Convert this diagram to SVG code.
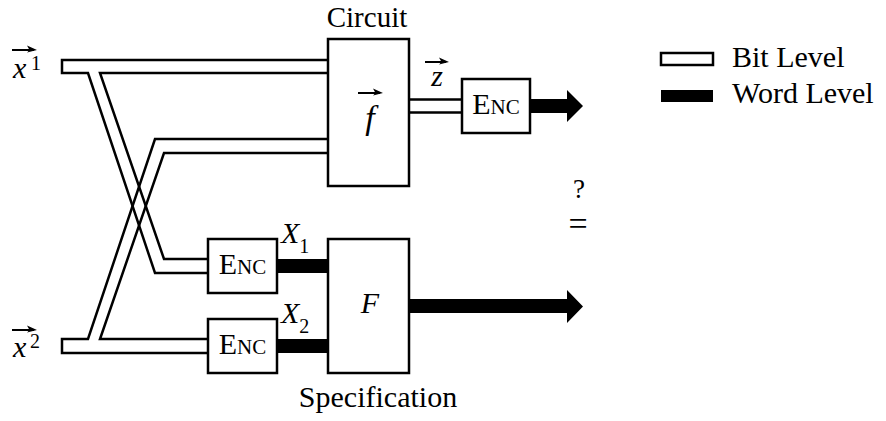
<svg xmlns="http://www.w3.org/2000/svg" width="886" height="421" viewBox="0 0 886 421">
<style>
text{font-family:"Liberation Serif","Times New Roman",Times,Tinos,"Nimbus Roman","Nimbus Roman No9 L",FreeSerif,"DejaVu Serif","Noto Serif",serif;fill:#000}
.t{font-size:30px}
.it{font-style:italic}
.box{fill:#fff;stroke:#000;stroke-width:2.5}
.bus{fill:none;stroke:#000;stroke-width:2.5;stroke-linejoin:miter}
.vec{fill:none;stroke:#000;stroke-width:2}
.vh{fill:#000;stroke:none}
</style>
<rect width="886" height="421" fill="#fff"/>
<g id="connectors">
  <path class="bus" d="M328,60 H62 V73 H88 L155,273 H208"/>
  <path class="bus" d="M208,259 H164 L100,73 H328"/>
  <path class="bus" d="M208,353 H62 V339 H88 L155,139 H328"/>
  <path class="bus" d="M328,153 H164 L100,339 H208"/>
  <path class="bus" d="M409,99.5 H462 M409,112.5 H462"/>
  <rect x="277" y="259" width="51" height="14" fill="#000"/>
  <rect x="277" y="339" width="51" height="14" fill="#000"/>
  <path d="M530,99 H567 V90 L583,106 L567,122 V113 H530 Z" fill="#000"/>
  <path d="M409,299 H567 V290 L583,306.5 L567,323 V313 H409 Z" fill="#000"/>
</g>
<g id="circuit">
  <rect class="box" x="328" y="39" width="81" height="147"/>
  <text x="367" y="27" font-size="29" text-anchor="middle">Circuit</text>
  <path class="vec" d="M358,93 H380"/>
  <path class="vh" d="M373,88.5 L383,93 L373,95.5 L375.5,93 Z"/>
  <text class="it" x="370" y="129" font-size="34" text-anchor="middle">f</text>
</g>
<g id="enc-top">
  <rect class="box" x="462" y="79" width="68" height="54"/>
  <text class="t" x="496" y="114" text-anchor="middle">E<tspan font-size="21">NC</tspan></text>
</g>
<g id="z-label">
  <path class="vec" d="M425,62 H446"/>
  <path class="vh" d="M439,57.5 L449,62 L439,64.5 L441.5,62 Z"/>
  <text class="t it" x="437" y="86" text-anchor="middle">z</text>
</g>
<g id="x1-label">
  <path class="vec" d="M12,50 H34"/>
  <path class="vh" d="M27,45.5 L37,50 L27,52.5 L29.5,50 Z"/>
  <text class="t it" x="13" y="78">x</text>
  <text x="31" y="70" font-size="20">1</text>
</g>
<g id="x2-label">
  <path class="vec" d="M12,330 H34"/>
  <path class="vh" d="M27,325.5 L37,330 L27,332.5 L29.5,330 Z"/>
  <text class="t it" x="13" y="357">x</text>
  <text x="30" y="348" font-size="20">2</text>
</g>
<g id="enc1">
  <rect class="box" x="208" y="239" width="69" height="54"/>
  <text class="t" x="242.5" y="274" text-anchor="middle">E<tspan font-size="21">NC</tspan></text>
</g>
<g id="enc2">
  <rect class="box" x="208" y="319" width="69" height="54"/>
  <text class="t" x="242.5" y="354" text-anchor="middle">E<tspan font-size="21">NC</tspan></text>
</g>
<g id="spec">
  <rect class="box" x="328" y="239" width="81" height="134"/>
  <text class="t it" x="370" y="313" text-anchor="middle">F</text>
  <text class="t" x="378" y="407" text-anchor="middle">Specification</text>
</g>
<g id="x-labels">
  <text class="t it" x="281" y="243">X<tspan font-size="20" font-style="normal" dy="10">1</tspan></text>
  <text class="t it" x="281" y="323">X<tspan font-size="20" font-style="normal" dy="10">2</tspan></text>
</g>
<g id="compare">
  <text x="579" y="198" font-size="27" text-anchor="middle">?</text>
  <text x="578" y="235" font-size="34" text-anchor="middle">=</text>
</g>
<g id="legend">
  <rect x="661" y="53" width="52" height="12" fill="#fff" stroke="#000" stroke-width="2.5"/>
  <text class="t" x="732" y="67">Bit Level</text>
  <rect x="661" y="90" width="52" height="12" fill="#000"/>
  <text class="t" x="732" y="103">Word Level</text>
</g>
</svg>
